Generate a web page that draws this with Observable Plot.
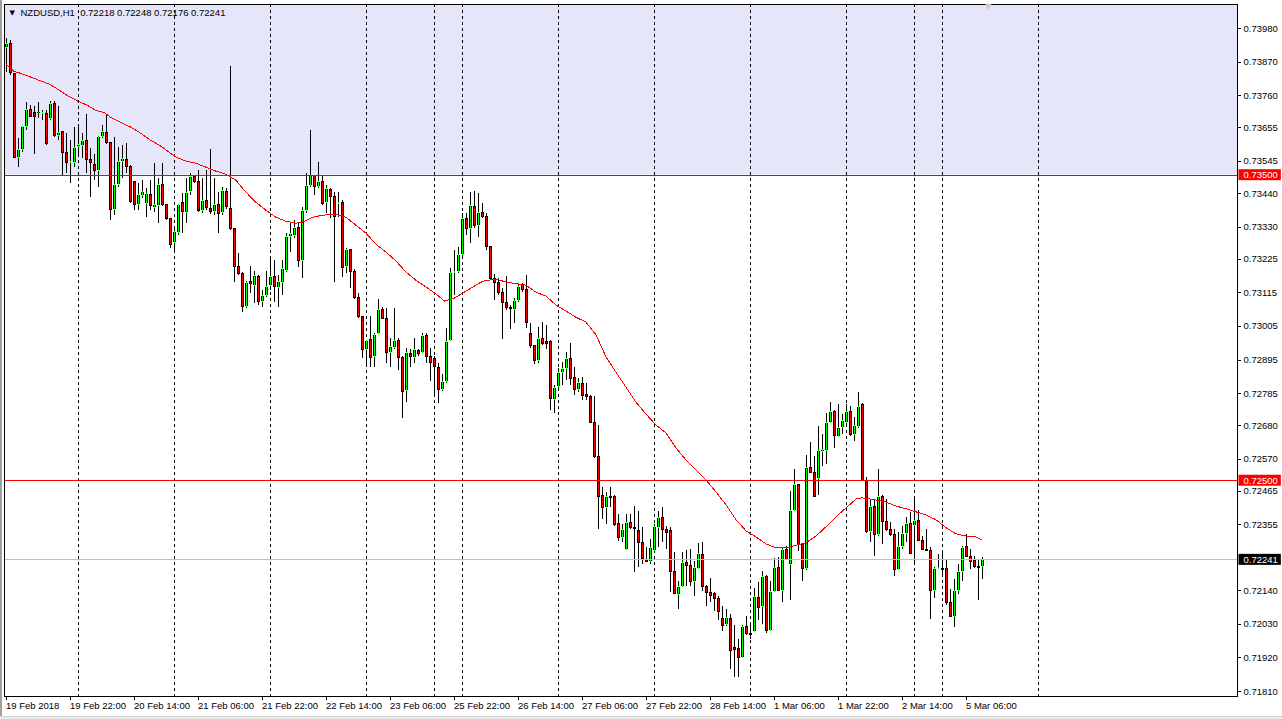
<!DOCTYPE html>
<html><head><meta charset="utf-8">
<script src="https://cdn.jsdelivr.net/npm/d3@7"></script>
<script src="https://cdn.jsdelivr.net/npm/@observablehq/plot@0.6"></script>
<style>
html,body{margin:0;padding:0;background:#fff;}
#wrap{position:relative;width:1282px;height:719px;overflow:hidden;background:#fff;}
#wrap svg{position:absolute;left:0;top:0;}
.edgeL{position:absolute;left:0;top:0;width:2px;height:719px;background:#a0a0a0;}
.edgeB{position:absolute;left:0;top:716px;width:1282px;height:3px;background:#ececec;border-top:1px solid #d0d0d0;}
</style></head><body><div id="wrap"><div class="edgeL"></div><div class="edgeB"></div></div>
<script>
const symbol = "NZDUSD,H1";
const quote = [0.72218, 0.72248, 0.72176, 0.72241];

const open = [
0.73915,0.73928,0.73830,0.73556,0.73582,0.73657,0.73712,0.73702,0.73702,0.73699,
0.73699,0.73683,0.73732,0.73627,0.73640,0.73572,0.73539,0.73539,0.73591,0.73595,
0.73611,0.73549,0.73533,0.73513,0.73624,0.73637,0.73604,0.73385,0.73467,0.73542,
0.73549,0.73526,0.73477,0.73402,0.73431,0.73405,0.73435,0.73392,0.73398,0.73467,
0.73402,0.73356,0.73277,0.73310,0.73408,0.73376,0.73444,0.73493,0.73477,0.73382,
0.73415,0.73389,0.73379,0.73402,0.73376,0.73444,0.73389,0.73323,0.73199,0.73176,
0.73068,0.73150,0.73137,0.73166,0.73084,0.73104,0.73137,0.73166,0.73130,0.73147,
0.73186,0.73297,0.73300,0.73327,0.73219,0.73382,0.73464,0.73497,0.73461,0.73477,
0.73408,0.73451,0.73428,0.73405,0.73408,0.73199,0.73255,0.73183,0.73097,0.73035,
0.72928,0.72960,0.72905,0.72980,0.73058,0.73029,0.72918,0.72934,0.72957,0.72901,
0.72793,0.72915,0.72901,0.72924,0.72918,0.72973,0.72905,0.72898,0.72869,0.72797,
0.72823,0.72957,0.73179,0.73183,0.73238,0.73356,0.73323,0.73395,0.73333,0.73376,
0.73362,0.73264,0.73160,0.73147,0.73114,0.73081,0.73065,0.73058,0.73088,0.73140,
0.73124,0.72980,0.72941,0.72891,0.72963,0.72954,0.72954,0.72764,0.72806,0.72852,
0.72865,0.72898,0.72836,0.72797,0.72816,0.72780,0.72774,0.72689,0.72578,0.72450,
0.72411,0.72447,0.72447,0.72359,0.72313,0.72274,0.72362,0.72346,0.72336,0.72297,
0.72241,0.72235,0.72271,0.72346,0.72378,0.72339,0.72336,0.72202,0.72127,0.72153,
0.72231,0.72221,0.72169,0.72212,0.72257,0.72153,0.72133,0.72130,0.72114,0.72048,
0.72028,0.72048,0.71953,0.71950,0.71921,0.72022,0.71999,0.72005,0.72117,0.72087,
0.72185,0.72009,0.72136,0.72215,0.72140,0.72274,0.72225,0.72401,0.72486,0.72290,
0.72212,0.72542,0.72525,0.72506,0.72594,0.72597,0.72689,0.72725,0.72643,0.72672,
0.72689,0.72725,0.72650,0.72676,0.72748,0.72499,0.72333,0.72414,0.72323,0.72447,
0.72365,0.72339,0.72323,0.72208,0.72284,0.72326,0.72359,0.72352,0.72369,0.72303,
0.72274,0.72270,0.72140,0.72212,0.72212,0.72212,0.72100,0.72054,0.72140,0.72202,
0.72284,0.72251,0.72238,0.72218,0.72218];

const high = [
0.73948,0.73941,0.73833,0.73621,0.73660,0.73738,0.73729,0.73726,0.73738,0.73712,
0.73712,0.73742,0.73742,0.73726,0.73643,0.73637,0.73614,0.73657,0.73663,0.73637,
0.73699,0.73588,0.73566,0.73627,0.73663,0.73696,0.73607,0.73624,0.73591,0.73598,
0.73604,0.73530,0.73480,0.73474,0.73483,0.73457,0.73483,0.73539,0.73490,0.73539,
0.73405,0.73359,0.73327,0.73405,0.73441,0.73490,0.73506,0.73500,0.73516,0.73490,
0.73516,0.73585,0.73490,0.73444,0.73461,0.73457,0.73856,0.73326,0.73245,0.73183,
0.73153,0.73202,0.73186,0.73173,0.73124,0.73186,0.73232,0.73222,0.73173,0.73222,
0.73310,0.73343,0.73353,0.73346,0.73395,0.73506,0.73647,0.73500,0.73542,0.73500,
0.73467,0.73457,0.73444,0.73444,0.73418,0.73261,0.73258,0.73192,0.73114,0.73038,
0.72960,0.73038,0.72983,0.73094,0.73068,0.73065,0.72967,0.73065,0.72964,0.72908,
0.72934,0.72931,0.72967,0.72931,0.72983,0.72983,0.72934,0.72908,0.72885,0.72849,
0.72999,0.73196,0.73255,0.73264,0.73376,0.73376,0.73444,0.73448,0.73441,0.73408,
0.73376,0.73264,0.73176,0.73163,0.73130,0.73169,0.73075,0.73097,0.73143,0.73147,
0.73173,0.73016,0.72944,0.73003,0.73019,0.73009,0.72960,0.72810,0.72868,0.72888,
0.72918,0.72950,0.72872,0.72836,0.72839,0.72819,0.72780,0.72774,0.72679,0.72479,
0.72460,0.72479,0.72453,0.72388,0.72355,0.72388,0.72388,0.72414,0.72398,0.72346,
0.72280,0.72306,0.72355,0.72398,0.72411,0.72349,0.72346,0.72264,0.72170,0.72264,
0.72270,0.72274,0.72235,0.72293,0.72297,0.72156,0.72179,0.72133,0.72120,0.72087,
0.72077,0.72061,0.72025,0.71979,0.72025,0.72054,0.72031,0.72146,0.72166,0.72202,
0.72189,0.72169,0.72244,0.72247,0.72280,0.72284,0.72463,0.72535,0.72489,0.72293,
0.72581,0.72624,0.72578,0.72676,0.72650,0.72721,0.72757,0.72731,0.72748,0.72718,
0.72748,0.72744,0.72708,0.72787,0.72754,0.72512,0.72437,0.72437,0.72538,0.72453,
0.72437,0.72362,0.72339,0.72329,0.72349,0.72378,0.72395,0.72440,0.72404,0.72316,
0.72339,0.72280,0.72215,0.72257,0.72264,0.72241,0.72143,0.72175,0.72225,0.72284,
0.72323,0.72274,0.72251,0.72241,0.72248];

const low = [
0.73836,0.73827,0.73553,0.73526,0.73575,0.73647,0.73690,0.73566,0.73686,0.73680,
0.73598,0.73680,0.73624,0.73614,0.73500,0.73506,0.73473,0.73526,0.73559,0.73556,
0.73506,0.73428,0.73483,0.73461,0.73621,0.73601,0.73353,0.73369,0.73461,0.73490,
0.73506,0.73408,0.73385,0.73385,0.73425,0.73362,0.73385,0.73379,0.73343,0.73398,
0.73353,0.73261,0.73245,0.73303,0.73310,0.73343,0.73435,0.73474,0.73379,0.73376,
0.73385,0.73372,0.73369,0.73310,0.73369,0.73389,0.73320,0.73150,0.73173,0.73052,
0.73065,0.73114,0.73081,0.73075,0.73068,0.73101,0.73124,0.73084,0.73068,0.73107,
0.73183,0.73248,0.73294,0.73199,0.73163,0.73376,0.73461,0.73435,0.73457,0.73402,
0.73376,0.73359,0.73150,0.73362,0.73166,0.73179,0.73130,0.73094,0.73032,0.72901,
0.72872,0.72872,0.72872,0.72977,0.73026,0.72885,0.72869,0.72928,0.72862,0.72705,
0.72757,0.72872,0.72885,0.72908,0.72915,0.72885,0.72823,0.72774,0.72754,0.72793,
0.72819,0.72957,0.73107,0.73179,0.73235,0.73303,0.73277,0.73327,0.73297,0.73359,
0.73255,0.73156,0.73091,0.73107,0.72963,0.73058,0.72996,0.73016,0.73084,0.73117,
0.72999,0.72934,0.72879,0.72885,0.72944,0.72928,0.72731,0.72721,0.72803,0.72813,
0.72829,0.72813,0.72780,0.72790,0.72764,0.72764,0.72686,0.72571,0.72339,0.72372,
0.72355,0.72411,0.72349,0.72300,0.72297,0.72271,0.72339,0.72198,0.72215,0.72225,
0.72231,0.72225,0.72264,0.72280,0.72297,0.72274,0.72133,0.72127,0.72077,0.72150,
0.72153,0.72153,0.72120,0.72208,0.72136,0.72087,0.72100,0.72071,0.72041,0.72005,
0.72022,0.71881,0.71855,0.71855,0.71917,0.71992,0.71979,0.72002,0.72041,0.72028,
0.71999,0.72005,0.72133,0.72136,0.72100,0.72238,0.72107,0.72398,0.72267,0.72169,
0.72205,0.72522,0.72444,0.72453,0.72545,0.72552,0.72686,0.72604,0.72640,0.72650,
0.72682,0.72646,0.72627,0.72672,0.72496,0.72326,0.72297,0.72251,0.72316,0.72290,
0.72333,0.72316,0.72185,0.72205,0.72274,0.72297,0.72257,0.72225,0.72300,0.72270,
0.72267,0.72045,0.72113,0.72208,0.72185,0.72090,0.72051,0.72018,0.72127,0.72169,
0.72251,0.72208,0.72212,0.72107,0.72176];

const close = [
0.73928,0.73833,0.73556,0.73582,0.73657,0.73712,0.73692,0.73692,0.73705,0.73705,
0.73601,0.73732,0.73627,0.73637,0.73572,0.73539,0.73542,0.73588,0.73598,0.73611,
0.73549,0.73539,0.73513,0.73624,0.73640,0.73604,0.73385,0.73467,0.73542,0.73552,
0.73526,0.73411,0.73402,0.73435,0.73444,0.73438,0.73398,0.73402,0.73467,0.73402,
0.73356,0.73271,0.73313,0.73402,0.73379,0.73441,0.73493,0.73477,0.73382,0.73415,
0.73392,0.73379,0.73402,0.73372,0.73448,0.73395,0.73323,0.73199,0.73176,0.73068,
0.73147,0.73143,0.73169,0.73084,0.73104,0.73134,0.73166,0.73134,0.73150,0.73192,
0.73297,0.73307,0.73327,0.73219,0.73382,0.73464,0.73497,0.73461,0.73477,0.73405,
0.73454,0.73428,0.73362,0.73408,0.73196,0.73255,0.73183,0.73097,0.73035,0.72928,
0.72957,0.72901,0.72977,0.73058,0.73029,0.72918,0.72937,0.72957,0.72901,0.72790,
0.72918,0.72905,0.72928,0.72915,0.72973,0.72905,0.72885,0.72872,0.72797,0.72823,
0.72954,0.73179,0.73183,0.73238,0.73356,0.73323,0.73398,0.73333,0.73376,0.73362,
0.73264,0.73160,0.73147,0.73114,0.73081,0.73065,0.73062,0.73088,0.73134,0.73124,
0.73016,0.72941,0.72891,0.72963,0.72947,0.72947,0.72767,0.72803,0.72852,0.72865,
0.72898,0.72833,0.72797,0.72819,0.72777,0.72774,0.72689,0.72578,0.72447,0.72411,
0.72447,0.72444,0.72355,0.72313,0.72339,0.72362,0.72346,0.72342,0.72297,0.72244,
0.72235,0.72280,0.72349,0.72378,0.72339,0.72329,0.72202,0.72130,0.72153,0.72231,
0.72221,0.72169,0.72215,0.72261,0.72153,0.72133,0.72123,0.72114,0.72071,0.72025,
0.72051,0.71944,0.71947,0.71921,0.72022,0.71999,0.71996,0.72120,0.72084,0.72185,
0.72009,0.72136,0.72215,0.72140,0.72274,0.72241,0.72401,0.72486,0.72290,0.72212,
0.72542,0.72525,0.72447,0.72597,0.72601,0.72689,0.72725,0.72646,0.72672,0.72695,
0.72725,0.72650,0.72679,0.72741,0.72499,0.72333,0.72414,0.72323,0.72447,0.72365,
0.72339,0.72323,0.72208,0.72284,0.72326,0.72359,0.72261,0.72369,0.72303,0.72274,
0.72271,0.72140,0.72212,0.72215,0.72208,0.72100,0.72054,0.72140,0.72202,0.72280,
0.72251,0.72235,0.72218,0.72215,0.72241];

const maBar = [0,2,3.7,7,11,13.3,15.3,18,20.3,22.4,24.5,26.2,28.7,31.2,33.7,36.2,38.7,40.8,42.5,45,
47.5,50,52.5,55,57.5,60,62.5,65,67.5,70,72.5,74,76.7,79,82.5,85,87.5,90,92.5,95,
97.5,100,102.5,105,107.5,109.6,112,114.2,116.7,119.2,122.5,125,130,132.5,135,137.5,140,142.5,145,147.5,
150,152.5,155,157.5,160,162.5,165,167.5,170,172.5,175,177.5,180,182.5,185,187.5,190,192.5,195,197,
200,202.5,205,207.5,210,212.5,214,217.5,220,222.5,225,227.5,230,232.5,235,237.5,240,242.5,244];
const maValue = [0.73863,0.73840,0.73833,0.73817,0.73797,0.73778,0.73761,0.73742,0.73729,0.73712,0.73705,0.73689,0.73673,0.73657,0.73637,0.73614,0.73595,0.73575,0.73559,0.73546,
0.73539,0.73526,0.73513,0.73503,0.73483,0.73444,0.73411,0.73385,0.73362,0.73349,0.73343,0.73346,0.73362,0.73369,0.73372,0.73362,0.73336,0.73310,0.73274,0.73248,
0.73219,0.73183,0.73156,0.73134,0.73111,0.73088,0.73097,0.73114,0.73134,0.73153,0.73160,0.73150,0.73140,0.73117,0.73104,0.73075,0.73055,0.73035,0.73019,0.72977,
0.72905,0.72855,0.72806,0.72757,0.72718,0.72682,0.72656,0.72607,0.72568,0.72535,0.72502,0.72463,0.72421,0.72372,0.72336,0.72316,0.72293,0.72280,0.72280,0.72287,
0.72297,0.72319,0.72349,0.72382,0.72411,0.72440,0.72444,0.72437,0.72430,0.72417,0.72408,0.72398,0.72388,0.72372,0.72346,0.72326,0.72319,0.72316,0.72306];

const separatorBars = [18,42,66,90,107,114,138,162,186,210,227,234,258];
const labelBars = [0,16,32,48,64,80,96,112,128,144,160,176,192,208,224,240];
const labelTexts = ["19 Feb 2018","19 Feb 22:00","20 Feb 14:00","21 Feb 06:00","21 Feb 22:00","22 Feb 14:00","23 Feb 06:00","25 Feb 22:00","26 Feb 14:00","27 Feb 06:00","27 Feb 22:00","28 Feb 14:00","1 Mar 06:00","1 Mar 22:00","2 Mar 14:00","5 Mar 06:00"];
const priceTicks = [0.7398,0.7387,0.7376,0.73655,0.73545,0.7344,0.7333,0.73225,0.73115,0.73005,0.72895,0.72785,0.7268,0.7257,0.72465,0.72355,0.7214,0.7203,0.7192,0.7181];
const zoneLevel = 0.7350;
const levelLines = [0.7350, 0.7250];
const bidPrice = 0.72241;
const shiftBar = 245.6;

const xDomain = [-0.375, 307.875];
const yDomain = [0.717936, 0.740586];
const bars = d3.range(open.length);
const FONT = "'Liberation Sans', Arial, sans-serif";
const bull = "#00ff00", bear = "#ff0000";

const svg = Plot.plot({
  width: 1282, height: 719,
  marginLeft: 4, marginRight: 45, marginTop: 4, marginBottom: 23,
  style: {fontFamily: FONT, fontSize: "9.5px", background: "transparent", overflow: "visible", color: "#000"},
  x: {domain: xDomain, axis: null},
  y: {domain: yDomain, axis: null},
  marks: [
    Plot.rect([zoneLevel], {x1: xDomain[0], x2: xDomain[1], y1: d => d, y2: yDomain[1], fill: "#e6e6fa"}),
    Plot.ruleX(separatorBars, {x: d => d, stroke: "#000", strokeDasharray: "3,3", shapeRendering: "crispEdges"}),
    // wicks
    Plot.ruleX(bars, {x: i => i, y1: i => low[i], y2: i => high[i], stroke: "#000", shapeRendering: "crispEdges"}),
    // body outline (3px black)
    Plot.ruleX(bars, {x: i => i, y1: i => open[i], y2: i => close[i], insetTop: -0.5, insetBottom: -0.5,
      stroke: "#000", strokeWidth: 3, shapeRendering: "crispEdges"}),
    // body fill (1px colour)
    Plot.ruleX(bars, {x: i => i, y1: i => open[i], y2: i => close[i], insetTop: 0.5, insetBottom: 0.5,
      stroke: i => close[i] >= open[i] ? bull : bear, strokeWidth: 1, shapeRendering: "crispEdges"}),
    Plot.ruleY(levelLines, {y: d => d, stroke: "#ff0000", shapeRendering: "crispEdges"}),
    Plot.ruleY([bidPrice], {y: d => d, stroke: "#c0c0c0", shapeRendering: "crispEdges"}),
    Plot.line(maBar, {x: d => d, y: (d, i) => maValue[i], stroke: "#ff0000", strokeWidth: 1, shapeRendering: "crispEdges"}),
    Plot.frame({stroke: "#000", shapeRendering: "crispEdges"}),
    Plot.axisY(priceTicks, {anchor: "right", tickSize: 3, tickPadding: 3, tickFormat: d => d.toFixed(5), fontSize: 9.5, fill: "#000", stroke: "#000", shapeRendering: "crispEdges"}),
    Plot.axisX(labelBars, {anchor: "bottom", tickSize: 4, tickPadding: 2, textAnchor: "start", dx: 0,
      tickFormat: d => labelTexts[labelBars.indexOf(d)], fontSize: 9.5, fill: "#000", stroke: "#000", shapeRendering: "crispEdges"}),
    Plot.text(levelLines, {y: d => d, text: d => d.toFixed(5), frameAnchor: "right", dx: 6, textAnchor: "start", fill: "#fff", fontSize: 9.5, className: "pbox-red"}),
    Plot.text([bidPrice], {y: d => d, text: d => d.toFixed(5), frameAnchor: "right", dx: 6, textAnchor: "start", fill: "#fff", fontSize: 9.5, className: "pbox-black"}),
    Plot.text([symbol + "\u00a0\u00a0" + quote.map(q => q.toFixed(5)).join(" ")], {frameAnchor: "top-left", dx: 16, dy: 5, textAnchor: "start", fill: "#000", fontSize: 9.5}),
    Plot.text(["\u25BC"], {frameAnchor: "top-left", dx: 5, dy: 6, textAnchor: "start", fill: "#000", fontSize: 7, fontFamily: "DejaVu Sans"}),
    Plot.text([shiftBar], {x: d => d, frameAnchor: "top", text: () => "\u25BC", fill: "#c8c8c8", fontSize: 8, dy: -1, fontFamily: "DejaVu Sans"})
  ]
});
document.getElementById("wrap").appendChild(svg);

for (const [cls, col] of [["pbox-red", "#ff0000"], ["pbox-black", "#000000"]]) {
  svg.querySelectorAll(`g.${cls} text`).forEach(t => {
    const b = t.getBBox();
    const r = document.createElementNS("http://www.w3.org/2000/svg", "rect");
    r.setAttribute("x", b.x - 5);
    r.setAttribute("y", b.y + (b.height - 11) / 2);
    r.setAttribute("width", b.width + 8);
    r.setAttribute("height", 11);
    r.setAttribute("fill", col);
    if (t.getAttribute("transform")) r.setAttribute("transform", t.getAttribute("transform"));
    t.parentNode.insertBefore(r, t);
  });
}
</script>
</body></html>
